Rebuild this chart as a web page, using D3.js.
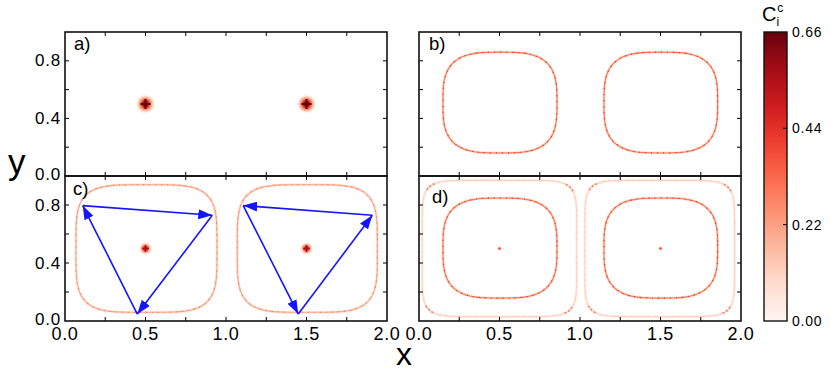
<!DOCTYPE html>
<html>
<head>
<meta charset="utf-8">
<script src="https://cdn.jsdelivr.net/npm/d3@7"></script>
<style>
  body { margin: 0; background: #fff; }
  text { font-family: "Liberation Sans", Arial, sans-serif; fill: #000; }
</style>
</head>
<body>
<svg id="chart" width="831" height="377"></svg>
<script>
// ---- data ----
var xTicks = [0, 0.25, 0.5, 0.75, 1, 1.25, 1.5, 1.75, 2];
var xLabels = [0, 0.5, 1, 1.5, 2];
var yTicks = [0.2, 0.4, 0.6, 0.8];
var yLabels = [0, 0.4, 0.8];
var cTicks = [0, 0.22, 0.44, 0.66];
var panelNames = ["a)", "b)", "c)", "d)"];

// concentration spots: panel, centre, peak value, spread (x units)
var spots = [
  { p: 0, x: 0.5, y: 0.5, v: 0.66, s: 0.062 },
  { p: 0, x: 1.5, y: 0.5, v: 0.66, s: 0.062 },
  { p: 2, x: 0.5, y: 0.5, v: 0.56, s: 0.042 },
  { p: 2, x: 1.5, y: 0.5, v: 0.56, s: 0.042 },
  { p: 3, x: 0.5, y: 0.5, v: 0.36, s: 0.016 },
  { p: 3, x: 1.5, y: 0.5, v: 0.36, s: 0.016 }
];

// rings (rounded squares): panel, centre, half width, half height, squareness, value, corner value
var rings = [
  { p: 1, x: 0.503, y: 0.51, a: 0.354, b: 0.35, n: 3.2, v: 0.3 },
  { p: 1, x: 1.502, y: 0.51, a: 0.353, b: 0.35, n: 3.2, v: 0.3 },
  { p: 2, x: 0.506, y: 0.5, a: 0.438, b: 0.44, n: 4.2, v: 0.2 },
  { p: 2, x: 1.505, y: 0.5, a: 0.435, b: 0.44, n: 4.2, v: 0.2 },
  { p: 3, x: 0.503, y: 0.503, a: 0.354, b: 0.345, n: 3.2, v: 0.3 },
  { p: 3, x: 1.502, y: 0.503, a: 0.353, b: 0.345, n: 3.2, v: 0.3 },
  { p: 3, x: 0.5, y: 0.5, a: 0.48, b: 0.47, n: 7, v: 0.1, cv: 0.3 },
  { p: 3, x: 1.495, y: 0.5, a: 0.465, b: 0.47, n: 7, v: 0.1, cv: 0.3 }
];

// blue trajectory arrows in panel c
var arrows = [
  [[0.11, 0.796], [0.915, 0.729]],
  [[0.915, 0.729], [0.449, 0.048]],
  [[0.449, 0.048], [0.11, 0.796]],
  [[1.909, 0.729], [1.107, 0.796]],
  [[1.107, 0.796], [1.449, 0.048]],
  [[1.449, 0.048], [1.909, 0.729]]
];

// ---- layout ----
var svg = d3.select("#chart");
var colX = [[65, 387], [419, 741]];
var rowY = [[176, 32], [321, 176]];
var labelOff = [[9, 18], [10, 18], [8, 19], [13, 27]];

var color = d3.scaleSequential(d3.interpolateReds).domain([0, 0.66]);

var defs = svg.append("defs");

var panels = panelNames.map(function (name, i) {
  var col = i % 2, row = Math.floor(i / 2);
  return {
    name: name,
    col: col,
    row: row,
    x: d3.scaleLinear().domain([0, 2]).range(colX[col]),
    y: d3.scaleLinear().domain([0, 1]).range(rowY[row])
  };
});

// arrow head marker
defs.append("marker")
  .attr("id", "head")
  .attr("markerUnits", "userSpaceOnUse")
  .attr("viewBox", "0 0 14 10")
  .attr("refX", 14)
  .attr("refY", 5)
  .attr("markerWidth", 14)
  .attr("markerHeight", 10)
  .attr("orient", "auto")
  .append("path")
  .attr("d", "M0,0 L14,5 L0,10 Z")
  .attr("fill", "#1414ff");

function ringPoint(P, r, deg) {
  var t = deg * Math.PI / 180, c = Math.cos(t), s = Math.sin(t);
  return [
    P.x(r.x + r.a * Math.sign(c) * Math.pow(Math.abs(c), 2 / r.n)),
    P.y(r.y + r.b * Math.sign(s) * Math.pow(Math.abs(s), 2 / r.n))
  ];
}

panels.forEach(function (P, i) {
  var x0 = P.x.range()[0], x1 = P.x.range()[1];
  var y0 = P.y.range()[1], y1 = P.y.range()[0];

  defs.append("clipPath").attr("id", "clip" + i)
    .append("rect").attr("x", x0).attr("y", y0)
    .attr("width", x1 - x0).attr("height", y1 - y0);

  var g = svg.append("g");
  var body = g.append("g").attr("clip-path", "url(#clip" + i + ")");

  // rings
  rings.filter(function (r) { return r.p === i; }).forEach(function (r) {
    var pts = d3.range(0, 360, 2).map(function (deg) { return ringPoint(P, r, deg); });
    var line = d3.line().curve(d3.curveCardinalClosed)(pts);
    body.append("path").attr("d", line).attr("fill", "none")
      .attr("stroke", color(r.v * 0.25)).attr("stroke-width", 2.8);
    body.append("path").attr("d", line).attr("fill", "none")
      .attr("stroke", color(r.v)).attr("stroke-width", 1.1);
    body.append("path").attr("d", line).attr("fill", "none")
      .attr("stroke", color(Math.min(0.66, r.v * 1.4))).attr("stroke-width", 1.2)
      .attr("stroke-dasharray", "1.2 4.8");
    if (r.cv) {
      [45, 135, 225, 315].forEach(function (c) {
        var arc = d3.range(c - 12, c + 13, 2).map(function (deg) { return ringPoint(P, r, deg); });
        body.append("path").attr("d", d3.line().curve(d3.curveCardinal)(arc))
          .attr("fill", "none").attr("stroke", color(r.cv)).attr("stroke-width", 1.5)
          .attr("stroke-dasharray", "2 2");
      });
    }
  });

  // spots
  spots.filter(function (s) { return s.p === i; }).forEach(function (s, k) {
    var id = "spot" + i + "_" + k;
    var grad = defs.append("radialGradient").attr("id", id);
    [[0, 1], [0.25, 0.88], [0.5, 0.45], [0.75, 0.15], [1, 0]].forEach(function (st) {
      grad.append("stop").attr("offset", st[0])
        .attr("stop-color", color(s.v * st[1]))
        .attr("stop-opacity", st[0] === 1 ? 0 : 1);
    });
    var rx = P.x(s.x + s.s) - P.x(s.x);
    body.append("circle").attr("cx", P.x(s.x)).attr("cy", P.y(s.y))
      .attr("r", rx).attr("fill", "url(#" + id + ")");
    body.append("path")
      .attr("d", "M" + (P.x(s.x) - rx * 0.5) + "," + P.y(s.y) + "h" + rx +
        "M" + P.x(s.x) + "," + (P.y(s.y) - rx * 0.5) + "v" + rx)
      .attr("stroke", color(s.v)).attr("stroke-width", Math.max(1, rx * 0.2));
  });

  // arrows in panel c
  if (i === 2) {
    arrows.forEach(function (a) {
      body.append("line")
        .attr("x1", P.x(a[0][0])).attr("y1", P.y(a[0][1]))
        .attr("x2", P.x(a[1][0])).attr("y2", P.y(a[1][1]))
        .attr("stroke", "#1414ff").attr("stroke-width", 1.6)
        .attr("marker-end", "url(#head)");
    });
  }

  // ticks, inward on all four sides
  var tl = 4;
  xTicks.forEach(function (t) {
    if (t === 0 || t === 2) return;
    g.append("line").attr("x1", P.x(t)).attr("x2", P.x(t))
      .attr("y1", y1).attr("y2", y1 - tl).attr("stroke", "#000").attr("stroke-width", 1);
    g.append("line").attr("x1", P.x(t)).attr("x2", P.x(t))
      .attr("y1", y0).attr("y2", y0 + tl).attr("stroke", "#000").attr("stroke-width", 1);
  });
  yTicks.forEach(function (t) {
    g.append("line").attr("x1", x0).attr("x2", x0 + tl)
      .attr("y1", P.y(t)).attr("y2", P.y(t)).attr("stroke", "#000").attr("stroke-width", 1);
    g.append("line").attr("x1", x1).attr("x2", x1 - tl)
      .attr("y1", P.y(t)).attr("y2", P.y(t)).attr("stroke", "#000").attr("stroke-width", 1);
  });

  g.append("rect").attr("x", x0).attr("y", y0)
    .attr("width", x1 - x0).attr("height", y1 - y0)
    .attr("fill", "none").attr("stroke", "#111").attr("stroke-width", 1.6);

  g.append("text").attr("x", x0 + labelOff[i][0]).attr("y", y0 + labelOff[i][1])
    .attr("font-size", 18.5).text(P.name);

  if (P.col === 0) {
    yLabels.forEach(function (t) {
      g.append("text").attr("x", x0 - 4).attr("y", P.y(t) + (t === 0 ? 4 : 5.5))
        .attr("text-anchor", "end").attr("font-size", 17)
        .attr("letter-spacing", 0.8).text(d3.format(".1f")(t));
    });
  }
  if (P.row === 1) {
    xLabels.forEach(function (t) {
      g.append("text").attr("x", P.x(t)).attr("y", 340)
        .attr("text-anchor", "middle").attr("font-size", 18)
        .attr("letter-spacing", 0.6).text(d3.format(".1f")(t));
    });
  }
});

// axis titles
svg.append("text").attr("x", 8).attr("y", 174).attr("font-size", 35).text("y");
svg.append("text").attr("x", 396).attr("y", 365).attr("font-size", 32).text("x");

// ---- colour bar ----
var cb = { x: 764, w: 23 };
var cy = d3.scaleLinear().domain([0, 0.66]).range([321, 32]);
var cg = defs.append("linearGradient").attr("id", "cbar")
  .attr("x1", 0).attr("y1", 1).attr("x2", 0).attr("y2", 0);
d3.range(0, 1.0001, 0.05).forEach(function (t) {
  cg.append("stop").attr("offset", t).attr("stop-color", color(t * 0.66));
});
svg.append("rect").attr("x", cb.x).attr("y", cy(0.66))
  .attr("width", cb.w).attr("height", cy(0) - cy(0.66))
  .attr("fill", "url(#cbar)").attr("stroke", "#111").attr("stroke-width", 1.4);
cTicks.forEach(function (t) {
  if (t > 0 && t < 0.66) {
    svg.append("line").attr("x1", cb.x + cb.w).attr("x2", cb.x + cb.w - 4)
      .attr("y1", cy(t)).attr("y2", cy(t)).attr("stroke", "#000");
  }
  svg.append("text").attr("x", cb.x + cb.w + 5).attr("y", cy(t) + 5)
    .attr("font-size", 14).attr("letter-spacing", 0.8).text(d3.format(".2f")(t));
});
var ct = svg.append("text").attr("x", 762).attr("y", 21).attr("font-size", 20);
ct.append("tspan").text("C");
ct.append("tspan").attr("font-size", 12).attr("dy", 5).text("i");
ct.append("tspan").attr("font-size", 12).attr("dy", -14).attr("dx", -2).text("c");
</script>
</body>
</html>
